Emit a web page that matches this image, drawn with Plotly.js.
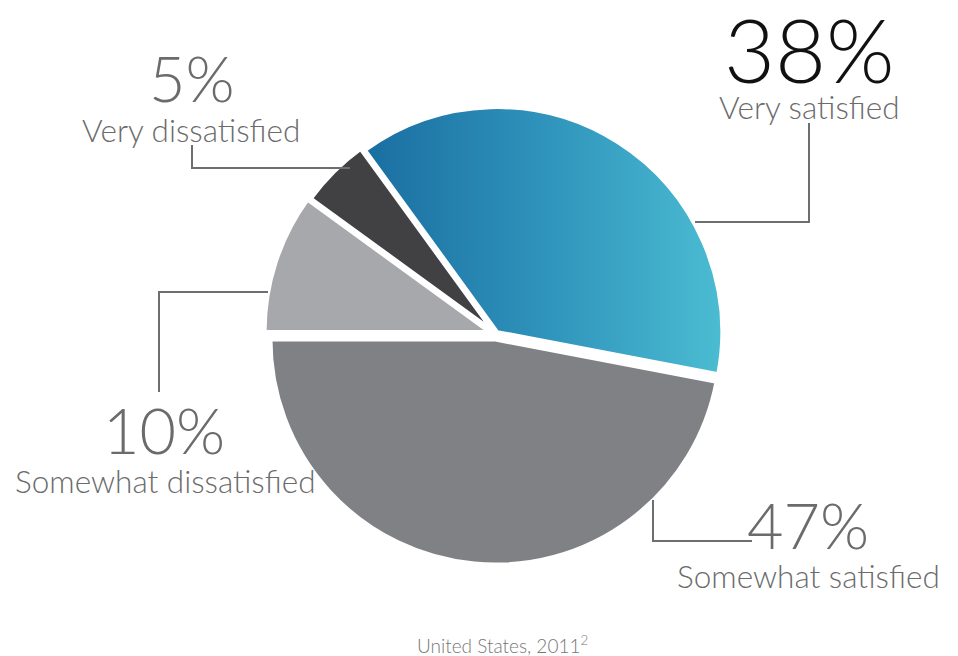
<!DOCTYPE html>
<html><head><meta charset="utf-8">
<script src="https://cdn.plot.ly/plotly-3.0.1.min.js"></script>
<style>html,body{margin:0;padding:0;background:#fff}</style>
</head><body>
<div id="chart" style="width:958px;height:656px"></div>
<script>
// ---- data ----
const categories = ["Very satisfied", "Somewhat satisfied", "Somewhat dissatisfied", "Very dissatisfied"];
const values = [38, 47, 10, 5];
const pctLabels = ["38%", "47%", "10%", "5%"];
const footerText = "United States, 2011<sup>2</sup>";

// ---- style ----
const sliceColors = ["#2e92bb", "#808185", "#a7a8ac", "#414143"];
const pulls = [0.01, 0.025, 0.03, 0.02];
const W = 958, H = 656;
const FONT = "Lato, 'Open Sans', sans-serif";
const labelColor = "#6b6b6b";
const lineColor = "#6d6e71";

const px = x => x / W;
const py = y => 1 - y / H;

// pie geometry (pixels)
const cx = 496, cy = 334, r = 225;
const maxPull = Math.max(...pulls);
const half = r * (1 + maxPull);

// label placement (pixels): [pctX, pctY, pctSize, nameX, nameY]
const labelPos = [
  [809, 49, 88, 809, 106.5],
  [808, 524.5, 63, 808, 575.5],
  [164, 429.5, 63, 165, 481],
  [192, 77.5, 63, 191, 129.5]
];
// leader lines (pixels)
const leaders = [
  [[809, 123], [809, 222], [695, 222]],
  [[653, 500], [653, 541], [752, 541]],
  [[159, 392], [159, 292], [268, 292]],
  [[192, 145], [192, 168], [350, 168]]
];

const annotations = [];
categories.forEach((c, i) => {
  const p = labelPos[i];
  annotations.push({
    text: pctLabels[i], x: px(p[0]), y: py(p[1]), xref: "paper", yref: "paper",
    xanchor: "center", yanchor: "middle", showarrow: false, borderpad: 0,
    font: {family: FONT, size: p[2], weight: 300, color: i === 0 ? "#111111" : labelColor}
  });
  annotations.push({
    text: c, x: px(p[3]), y: py(p[4]), xref: "paper", yref: "paper",
    xanchor: "center", yanchor: "middle", showarrow: false, borderpad: 0,
    font: {family: FONT, size: 31.5, weight: 300, color: labelColor}
  });
});
annotations.push({
  text: footerText, x: px(502), y: py(644.5), xref: "paper", yref: "paper",
  xanchor: "center", yanchor: "middle", showarrow: false, borderpad: 0,
  font: {family: FONT, size: 19, weight: 300, color: "#777777"}
});

const shapes = leaders.map(pts => ({
  type: "path", xref: "paper", yref: "paper", layer: "above",
  path: pts.map((p, j) => (j ? "L" : "M") + px(p[0]) + "," + py(p[1])).join(" "),
  line: {color: lineColor, width: 2}
}));

const trace = {
  type: "pie",
  labels: categories,
  values: values,
  sort: false,
  direction: "clockwise",
  rotation: -36,
  pull: pulls,
  textinfo: "none",
  hoverinfo: "none",
  showlegend: false,
  marker: {colors: sliceColors, line: {color: "#ffffff", width: 4}},
  domain: {x: [px(cx - half), px(cx + half)], y: [py(cy + half), py(cy - half)]}
};

const layout = {
  width: W, height: H,
  margin: {l: 0, r: 0, t: 0, b: 0},
  paper_bgcolor: "#ffffff",
  showlegend: false,
  annotations: annotations,
  shapes: shapes
};

Plotly.newPlot("chart", [trace], layout, {staticPlot: true, displayModeBar: false}).then(() => {
  const svg = document.querySelector("#chart .main-svg");
  const ns = "http://www.w3.org/2000/svg";
  let defs = svg.querySelector("defs");
  if (!defs) { defs = document.createElementNS(ns, "defs"); svg.insertBefore(defs, svg.firstChild); }
  const g = document.createElementNS(ns, "linearGradient");
  g.setAttribute("id", "blueGrad");
  g.setAttribute("x1", "0"); g.setAttribute("y1", "0");
  g.setAttribute("x2", "1"); g.setAttribute("y2", "0");
  [["0", "#1a6ea1"], ["0.5", "#2f93bb"], ["1", "#4bbcd2"]].forEach(s => {
    const st = document.createElementNS(ns, "stop");
    st.setAttribute("offset", s[0]); st.setAttribute("stop-color", s[1]);
    g.appendChild(st);
  });
  defs.appendChild(g);
  const first = document.querySelector("#chart .slice path.surface");
  if (first) first.style.fill = "url(#blueGrad)";
});
</script>
</body></html>
